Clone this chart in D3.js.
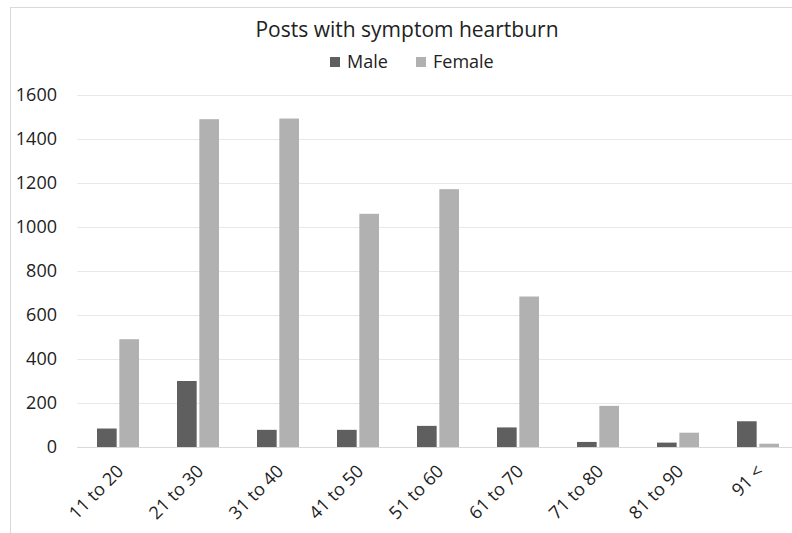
<!DOCTYPE html>
<html>
<head>
<meta charset="utf-8">
<script src="https://cdn.jsdelivr.net/npm/d3@7"></script>
<style>
  body { margin: 0; background: #fff; }
  svg { display: block; }
  svg text { font-family: "Open Sans", "Noto Sans", sans-serif; }
</style>
</head>
<body>
<script>
// values
var ageGroups = ["11 to 20", "21 to 30", "31 to 40", "41 to 50", "51 to 60",
                 "61 to 70", "71 to 80", "81 to 90", "91 <"];
var maleVals = [84, 300, 78, 78, 96, 89, 23, 20, 117];
var femaleVals = [490, 1490, 1493, 1060, 1172, 684, 187, 65, 15];
var seriesNames = ["Male", "Female"];
var yTicks = [0, 200, 400, 600, 800, 1000, 1200, 1400, 1600];

var W = 792, H = 533;
var margin = {top: 95, right: -5, bottom: 86, left: 77},
    width = W - margin.left - margin.right,
    height = H - margin.top - margin.bottom;

var color = d3.scaleOrdinal().domain(seriesNames).range(["#5f5f5f", "#b1b1b1"]);

var svg = d3.select("body").append("svg")
    .attr("width", W)
    .attr("height", H);

// chart frame (runs off the right / bottom of the picture)
svg.append("rect")
    .attr("x", 10.5).attr("y", 7.5)
    .attr("width", 900).attr("height", 700)
    .attr("fill", "none")
    .attr("stroke", "#d9d9d9");

var g = svg.append("g")
    .attr("transform", "translate(" + margin.left + "," + margin.top + ")");

var x = d3.scaleBand().domain(ageGroups).range([0, width]).padding(0);
var x1 = d3.scaleBand().domain(seriesNames).range([20, 62]).paddingInner(0.12);
var y = d3.scaleLinear().domain([0, 1600]).range([height, 0]);

// gridlines
g.selectAll(".grid")
    .data(yTicks)
  .enter().append("line")
    .attr("class", "grid")
    .attr("x1", 0).attr("x2", width)
    .attr("y1", function(d) { return Math.round(y(d)) + 0.5; })
    .attr("y2", function(d) { return Math.round(y(d)) + 0.5; })
    .attr("stroke", function(d) { return d === 0 ? "#d9d9d9" : "#e8e8e8"; })
    .attr("stroke-width", 1);

// y axis labels
var yAxis = g.append("g")
    .call(d3.axisLeft(y).tickValues(yTicks).tickFormat(d3.format("d"))
      .tickSize(0).tickPadding(20));
yAxis.attr("font-family", null).attr("font-size", null);
yAxis.select(".domain").remove();
yAxis.selectAll("text")
    .attr("fill", "#222")
    .style("font-size", "18px");

// bars
var rows = ageGroups.map(function(a, i) {
  return {group: a, vals: [{s: "Male", v: maleVals[i]}, {s: "Female", v: femaleVals[i]}]};
});

var grp = g.selectAll(".grp")
    .data(rows)
  .enter().append("g")
    .attr("class", "grp")
    .attr("transform", function(d) { return "translate(" + x(d.group) + ",0)"; });

grp.selectAll("rect")
    .data(function(d) { return d.vals; })
  .enter().append("rect")
    .attr("x", function(d) { return x1(d.s); })
    .attr("width", x1.bandwidth())
    .attr("y", function(d) { return y(d.v); })
    .attr("height", function(d) { return y(0) - y(d.v); })
    .attr("fill", function(d) { return color(d.s); });

// x axis labels, rotated
var xAxis = g.append("g")
    .attr("transform", "translate(0," + height + ")")
    .call(d3.axisBottom(x).tickSize(0).tickPadding(0));
xAxis.attr("font-family", null).attr("font-size", null);
xAxis.select(".domain").remove();
xAxis.selectAll("text")
    .attr("fill", "#222")
    .style("font-size", "18px")
    .style("text-anchor", "end")
    .attr("dy", "0.35em")
    .attr("transform", "translate(3,21) rotate(-45)");

// title
svg.append("text")
    .attr("x", 407).attr("y", 37)
    .attr("text-anchor", "middle")
    .attr("fill", "#222")
    .style("font-size", "21px")
    .text("Posts with symptom heartburn");

// legend
var legend = svg.selectAll(".legend")
    .data(seriesNames)
  .enter().append("g")
    .attr("class", "legend")
    .attr("transform", function(d, i) { return "translate(" + (330 + i * 86) + ",62)"; });

legend.append("rect")
    .attr("x", 0).attr("y", -5)
    .attr("width", 10).attr("height", 10)
    .attr("fill", color);

legend.append("text")
    .attr("x", 17).attr("dy", "0.35em")
    .attr("fill", "#222")
    .style("font-size", "18px")
    .text(function(d) { return d; });
</script>
</body>
</html>
